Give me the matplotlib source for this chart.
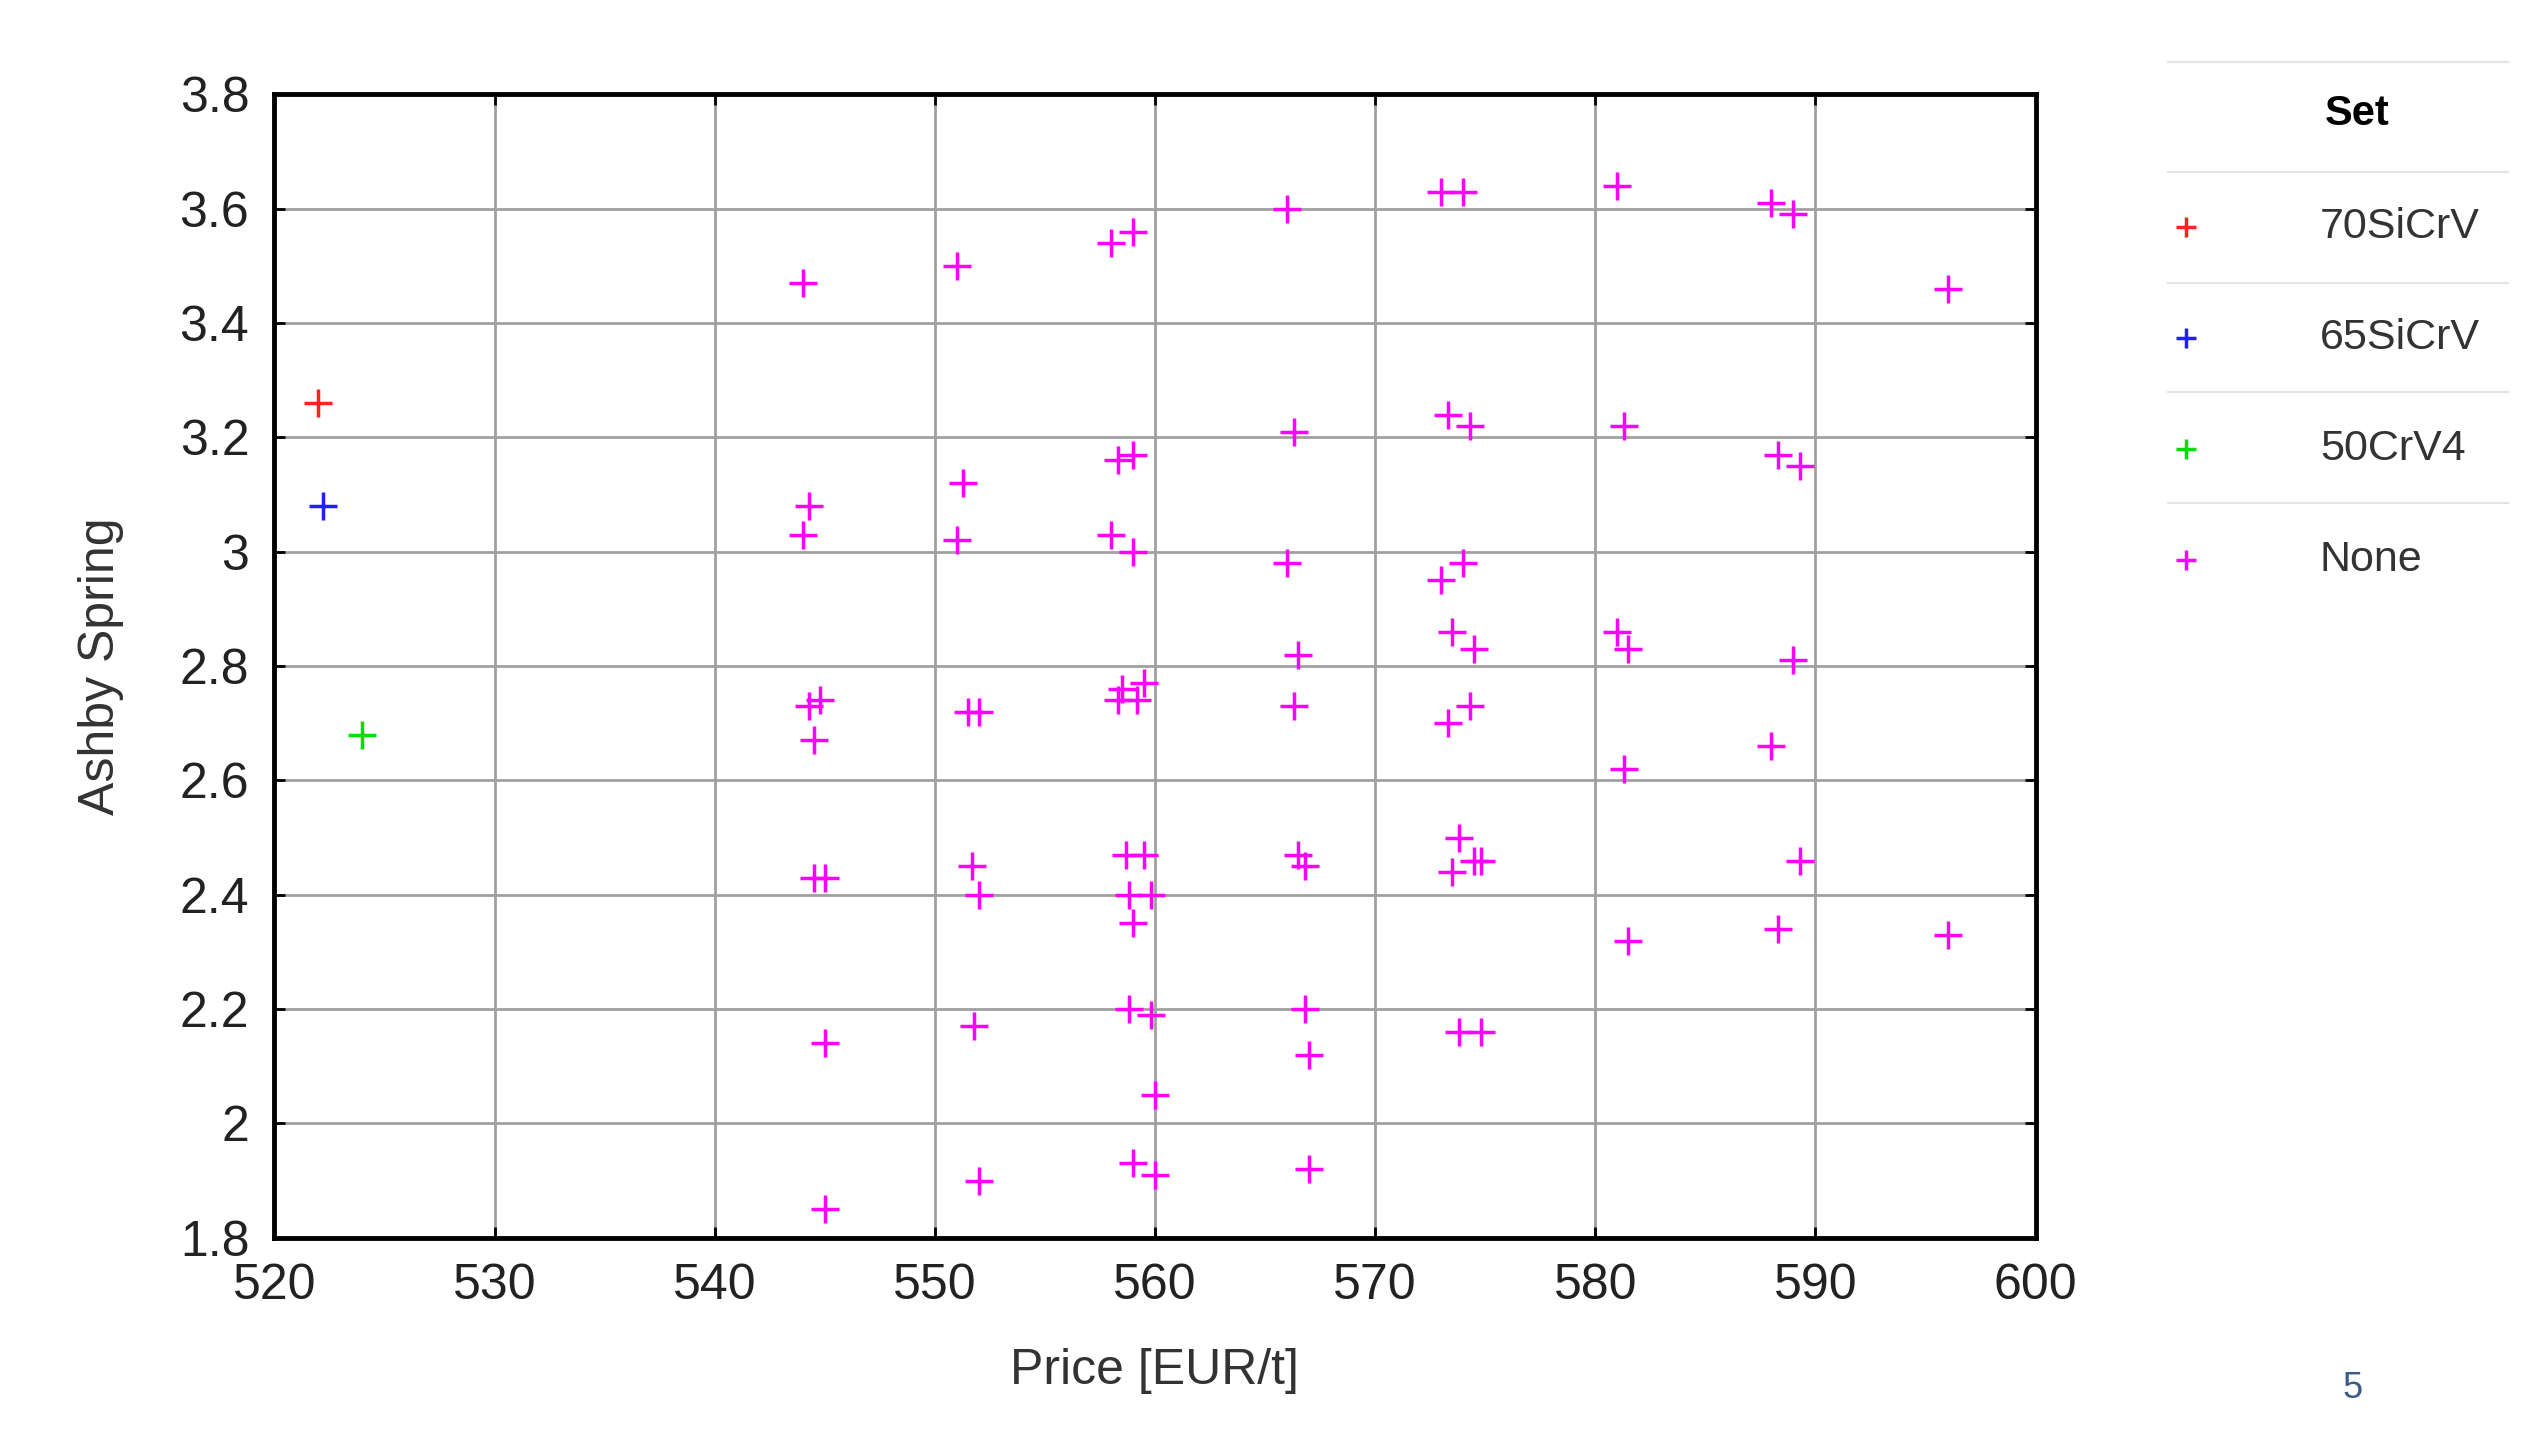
import matplotlib
matplotlib.use("Agg")
import matplotlib.pyplot as plt
from matplotlib.lines import Line2D

plt.rcParams['font.family'] = ['Liberation Sans', 'DejaVu Sans']

sets = ["70SiCrV", "65SiCrV", "50CrV4", "None"]
colors = ["#ff2020", "#2020ff", "#00e000", "#ff00ff"]
set_x = [[522.0], [522.2], [524.0]]
set_y = [[3.26], [3.08], [2.68]]

none_x = [544, 544.3, 544, 544.3, 544.8, 544.5, 544.5, 545, 545, 545,
          551, 551.3, 551, 551.5, 552, 551.7, 552, 551.8, 552,
          558, 559, 558.3, 559, 558, 559, 558.5, 559.5, 558.3, 559.2, 558.7, 559.5,
          558.8, 559.8, 559, 558.8, 559.8, 560, 559, 560,
          566, 566.3, 566, 566.5, 566.3, 566.5, 566.8, 566.8, 567, 567,
          573, 574, 573.3, 574.3, 573, 574, 573.5, 574.5, 573.3, 574.3, 573.8, 574.5,
          574.8, 573.5, 573.8, 574.8,
          581, 581.3, 581, 581.5, 581.3, 581.5,
          588, 589, 588.3, 589.3, 589, 588, 589.3, 588.3,
          596, 596]
none_y = [3.47, 3.08, 3.03, 2.73, 2.74, 2.67, 2.43, 2.43, 2.14, 1.85,
          3.50, 3.12, 3.02, 2.72, 2.72, 2.45, 2.40, 2.17, 1.90,
          3.54, 3.56, 3.16, 3.17, 3.03, 3.00, 2.76, 2.77, 2.74, 2.74, 2.47, 2.47,
          2.40, 2.40, 2.35, 2.20, 2.19, 2.05, 1.93, 1.91,
          3.60, 3.21, 2.98, 2.82, 2.73, 2.47, 2.45, 2.20, 2.12, 1.92,
          3.63, 3.63, 3.24, 3.22, 2.95, 2.98, 2.86, 2.83, 2.70, 2.73, 2.50, 2.46,
          2.46, 2.44, 2.16, 2.16,
          3.64, 3.22, 2.86, 2.83, 2.62, 2.32,
          3.61, 3.59, 3.17, 3.15, 2.81, 2.66, 2.46, 2.34,
          3.46, 2.33]

xticks = [520, 530, 540, 550, 560, 570, 580, 590, 600]
yticks = [1.8, 2.0, 2.2, 2.4, 2.6, 2.8, 3.0, 3.2, 3.4, 3.6, 3.8]
ytick_labels = ["1.8", "2", "2.2", "2.4", "2.6", "2.8", "3", "3.2", "3.4", "3.6", "3.8"]

fig = plt.figure(figsize=(25.24, 14.31), dpi=100)
ax = fig.add_axes([0.1087, 0.135, 0.6978, 0.799])
ax.scatter(none_x, none_y, marker='+', s=420, c=colors[3], linewidths=2.5, zorder=3)
for i in range(3):
    ax.scatter(set_x[i], set_y[i], marker='+', s=420, c=colors[i], linewidths=2.5, zorder=4)
ax.set_xlim(520, 600)
ax.set_ylim(1.8, 3.8)
ax.set_xticks(xticks)
ax.set_yticks(yticks)
ax.set_yticklabels(ytick_labels)
ax.grid(True, color='#a0a0a0', linewidth=2)
ax.set_axisbelow(True)
for s in ax.spines.values():
    s.set_linewidth(3.5)
ax.tick_params(labelsize=36, length=8, width=2, direction='in', pad=18,
               labelcolor='#222222', top=True, right=True)
ax.set_xlabel("Price [EUR/t]", fontsize=36, labelpad=28, color='#333333')
ax.set_ylabel("Ashby Spring", fontsize=36, labelpad=40, color='#333333')

# legend (manual)
H = 876.0
def fy(y): return 1 - y / H
def fx(x): return x / 1545.0
for yl in [38, 105, 173, 240, 308]:
    fig.add_artist(Line2D([fx(1327), fx(1535)], [fy(yl), fy(yl)], color='#e4e4e4', lw=1.5))
fig.text(fx(1443), fy(70), "Set", fontsize=30, fontweight='bold', ha='center', va='center')
for i, (name, yc) in enumerate(zip(sets, [139, 207, 275, 343])):
    fig.add_artist(Line2D([fx(1338)], [fy(yc)], marker='+', markersize=15, mew=2.5,
                          color=colors[i], linestyle='none'))
    fig.text(fx(1420), fy(yc), name, fontsize=31, ha='left', va='center', color='#333333')
fig.text(fx(1440), fy(850), "5", fontsize=26, ha='center', va='center', color='#3a5a8a')

fig.savefig("out.png", dpi=100)
